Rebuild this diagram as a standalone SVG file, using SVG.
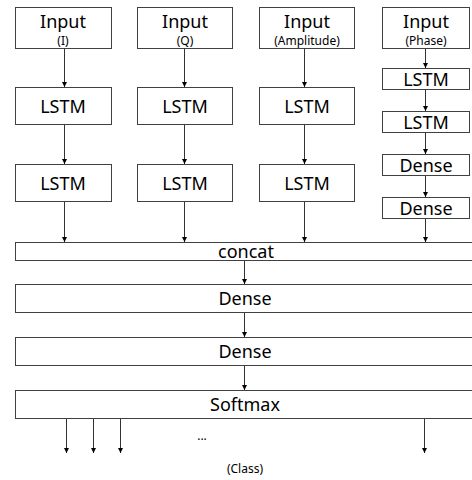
<svg xmlns="http://www.w3.org/2000/svg" width="472" height="480" viewBox="0 0 472 480">
<style>
rect{fill:#fff;stroke:#404040;stroke-width:1}
text{font-family:"Noto Sans","Open Sans","DejaVu Sans",sans-serif;fill:#000;text-anchor:middle}
.b{font-size:18px}
.s{font-size:12px}
.c line{stroke:#333;stroke-width:1}
</style>
<defs>
<marker id="ah" markerWidth="6" markerHeight="6" refX="5" refY="3" orient="auto" markerUnits="userSpaceOnUse">
<path d="M0,0.5 L5,3 L0,5.5 Z" fill="#000"/>
</marker>
</defs>
<g id="in1"><rect x="15.5" y="7.5" width="96" height="41"/><text class="b" x="63" y="28">Input</text><text class="s" x="63" y="45">(I)</text></g>
<g id="in2"><rect x="137.5" y="7.5" width="95" height="41"/><text class="b" x="185" y="28">Input</text><text class="s" x="185" y="45">(Q)</text></g>
<g id="in3"><rect x="259.5" y="7.5" width="95" height="41"/><text class="b" x="307" y="28">Input</text><text class="s" x="307" y="45">(Amplitude)</text></g>
<g id="in4"><rect x="382.5" y="7.5" width="87" height="41"/><text class="b" x="426" y="28">Input</text><text class="s" x="426" y="45">(Phase)</text></g>
<g id="l11"><rect x="15.5" y="87.5" width="96" height="37"/><text class="b" x="63" y="113">LSTM</text></g>
<g id="l21"><rect x="137.5" y="87.5" width="95" height="37"/><text class="b" x="185" y="113">LSTM</text></g>
<g id="l31"><rect x="259.5" y="87.5" width="95" height="37"/><text class="b" x="307" y="113">LSTM</text></g>
<g id="l12"><rect x="15.5" y="164.5" width="96" height="37"/><text class="b" x="63" y="190">LSTM</text></g>
<g id="l22"><rect x="137.5" y="164.5" width="95" height="37"/><text class="b" x="185" y="190">LSTM</text></g>
<g id="l32"><rect x="259.5" y="164.5" width="95" height="37"/><text class="b" x="307" y="190">LSTM</text></g>
<g id="p1"><rect x="382.5" y="68.5" width="87" height="21"/><text class="b" x="426" y="86">LSTM</text></g>
<g id="p2"><rect x="382.5" y="111.5" width="87" height="21"/><text class="b" x="426" y="129">LSTM</text></g>
<g id="p3"><rect x="382.5" y="154.5" width="87" height="21"/><text class="b" x="426" y="172">Dense</text></g>
<g id="p4"><rect x="382.5" y="197.5" width="87" height="21"/><text class="b" x="426" y="215">Dense</text></g>
<g id="concat"><rect x="15.5" y="242.5" width="470" height="18"/><text class="b" x="246" y="258">concat</text></g>
<g id="dense1"><rect x="15.5" y="284.5" width="470" height="28"/><text class="b" x="245" y="305">Dense</text></g>
<g id="dense2"><rect x="15.5" y="337.5" width="470" height="28"/><text class="b" x="245" y="358">Dense</text></g>
<g id="softmax"><rect x="15.5" y="390.5" width="470" height="28"/><text class="b" x="245" y="411">Softmax</text></g>
<g id="dots"><text class="s" x="202" y="440">...</text></g>
<g id="cls"><text class="s" x="245" y="473">(Class)</text></g>
<g class="c">
<line x1="64.5" y1="49" x2="64.5" y2="87" marker-end="url(#ah)"/>
<line x1="184.5" y1="49" x2="184.5" y2="87" marker-end="url(#ah)"/>
<line x1="304.5" y1="49" x2="304.5" y2="87" marker-end="url(#ah)"/>
<line x1="64.5" y1="125" x2="64.5" y2="164" marker-end="url(#ah)"/>
<line x1="184.5" y1="125" x2="184.5" y2="164" marker-end="url(#ah)"/>
<line x1="304.5" y1="125" x2="304.5" y2="164" marker-end="url(#ah)"/>
<line x1="64.5" y1="202" x2="64.5" y2="242" marker-end="url(#ah)"/>
<line x1="184.5" y1="202" x2="184.5" y2="242" marker-end="url(#ah)"/>
<line x1="304.5" y1="202" x2="304.5" y2="242" marker-end="url(#ah)"/>
<line x1="425.5" y1="49" x2="425.5" y2="68" marker-end="url(#ah)"/>
<line x1="425.5" y1="90" x2="425.5" y2="111" marker-end="url(#ah)"/>
<line x1="425.5" y1="133" x2="425.5" y2="154" marker-end="url(#ah)"/>
<line x1="425.5" y1="176" x2="425.5" y2="197" marker-end="url(#ah)"/>
<line x1="425.5" y1="219" x2="425.5" y2="242" marker-end="url(#ah)"/>
<line x1="244.5" y1="261" x2="244.5" y2="284" marker-end="url(#ah)"/>
<line x1="244.5" y1="313" x2="244.5" y2="337" marker-end="url(#ah)"/>
<line x1="244.5" y1="366" x2="244.5" y2="390" marker-end="url(#ah)"/>
<line x1="66.5" y1="419" x2="66.5" y2="453" marker-end="url(#ah)"/>
<line x1="93.5" y1="419" x2="93.5" y2="453" marker-end="url(#ah)"/>
<line x1="120.5" y1="419" x2="120.5" y2="453" marker-end="url(#ah)"/>
<line x1="424.5" y1="419" x2="424.5" y2="453" marker-end="url(#ah)"/>
</g>
</svg>
